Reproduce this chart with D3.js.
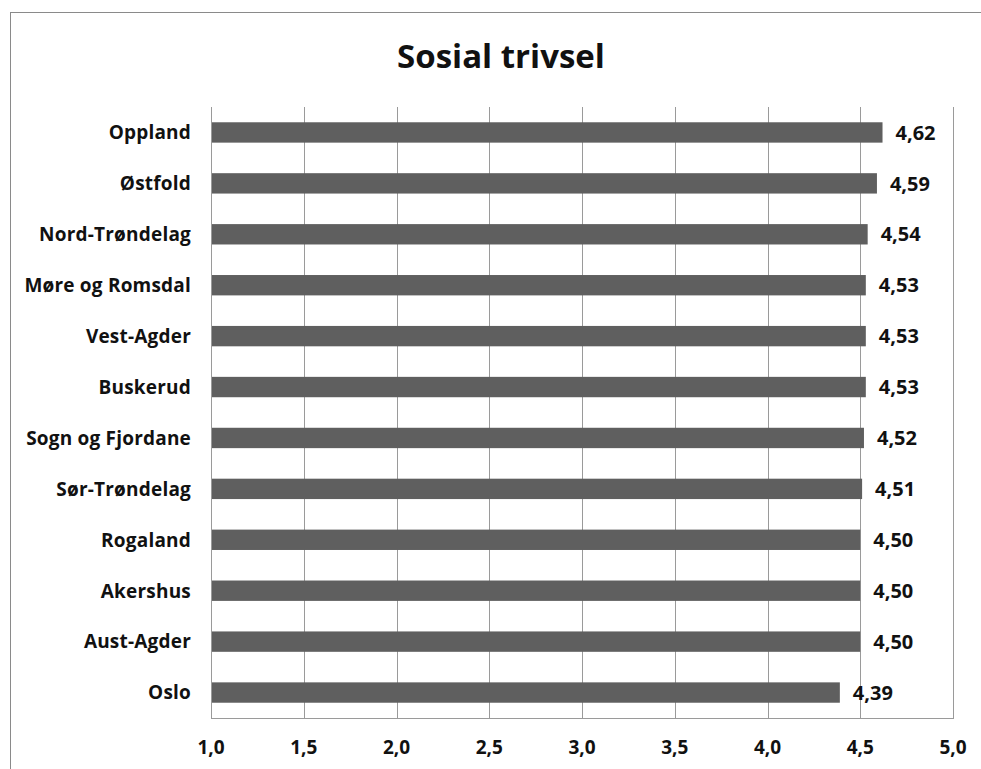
<!DOCTYPE html>
<html>
<head>
<meta charset="utf-8">
<script src="https://cdn.jsdelivr.net/npm/d3@7"></script>
<style>
  html, body { margin: 0; padding: 0; background: #fff; }
  svg { display: block; }
  text { font-family: "Open Sans", "Liberation Sans", sans-serif; font-weight: bold; fill: #111; }
</style>
</head>
<body>
<script>
// Fylker, sortert etter gjennomsnitt
const fylker = ["Oppland", "Østfold", "Nord-Trøndelag", "Møre og Romsdal", "Vest-Agder",
  "Buskerud", "Sogn og Fjordane", "Sør-Trøndelag", "Rogaland", "Akershus", "Aust-Agder", "Oslo"];
const verdier = [4.62, 4.59, 4.54, 4.53, 4.53, 4.53, 4.52, 4.51, 4.50, 4.50, 4.50, 4.39];
const akseVerdier = [1.0, 1.5, 2.0, 2.5, 3.0, 3.5, 4.0, 4.5, 5.0];
const tittel = "Sosial trivsel";

const W = 981, H = 769;
const plot = { left: 211, right: 953, top: 107, bottom: 718 };

const svg = d3.select("body").append("svg").attr("width", W).attr("height", H);

// Ramme rundt diagrammet
svg.append("rect")
  .attr("x", 10.5).attr("y", 12.5)
  .attr("width", W + 20).attr("height", H + 20)
  .attr("fill", "#fff").attr("stroke", "#8a8a8a").attr("stroke-width", 1);

const fmt = v => d3.format(".2f")(v).replace(".", ",");
const fmtAkse = v => d3.format(".1f")(v).replace(".", ",");

const x = d3.scaleLinear().domain([1, 5]).range([plot.left, plot.right]);
const y = d3.scaleBand().domain(fylker).range([plot.top, plot.bottom]).paddingInner(0.6).paddingOuter(0.3);

// Vertikale rutenettlinjer
svg.append("g")
  .selectAll("line")
  .data(akseVerdier)
  .join("line")
  .attr("x1", d => Math.round(x(d)) + 0.5).attr("x2", d => Math.round(x(d)) + 0.5)
  .attr("y1", plot.top).attr("y2", plot.bottom)
  .attr("stroke", "#9a9a9a").attr("stroke-width", 1);

// Bunnlinje for x-aksen
svg.append("line")
  .attr("x1", plot.left).attr("x2", plot.right + 1)
  .attr("y1", plot.bottom + 0.5).attr("y2", plot.bottom + 0.5)
  .attr("stroke", "#9a9a9a");

// Søyler
svg.append("g")
  .selectAll("rect")
  .data(fylker)
  .join("rect")
  .attr("x", x(1) + 1)
  .attr("y", d => y(d))
  .attr("width", (d, i) => x(verdier[i]) - x(1) - 1)
  .attr("height", y.bandwidth())
  .attr("fill", "#5f5f5f");

// Verdietiketter
svg.append("g")
  .selectAll("text")
  .data(fylker)
  .join("text")
  .attr("x", (d, i) => x(verdier[i]) + 13)
  .attr("y", d => y(d) + y.bandwidth() / 2)
  .attr("dy", "0.36em")
  .attr("font-size", 20)
  .text((d, i) => fmt(verdier[i]));

// Kategorinavn
svg.append("g")
  .selectAll("text")
  .data(fylker)
  .join("text")
  .attr("x", 191)
  .attr("y", d => y(d) + y.bandwidth() / 2)
  .attr("dy", "0.36em")
  .attr("text-anchor", "end")
  .attr("font-size", 19)
  .attr("letter-spacing", "0.2")
  .text(d => d);

// Aksetall
svg.append("g")
  .selectAll("text")
  .data(akseVerdier)
  .join("text")
  .attr("x", d => x(d))
  .attr("y", 747)
  .attr("dy", "0.36em")
  .attr("text-anchor", "middle")
  .attr("font-size", 19)
  .text(fmtAkse);

// Tittel
svg.append("text")
  .attr("x", 501).attr("y", 56)
  .attr("dy", "0.36em")
  .attr("text-anchor", "middle")
  .attr("font-size", 33)
  .text(tittel);
</script>
</body>
</html>
